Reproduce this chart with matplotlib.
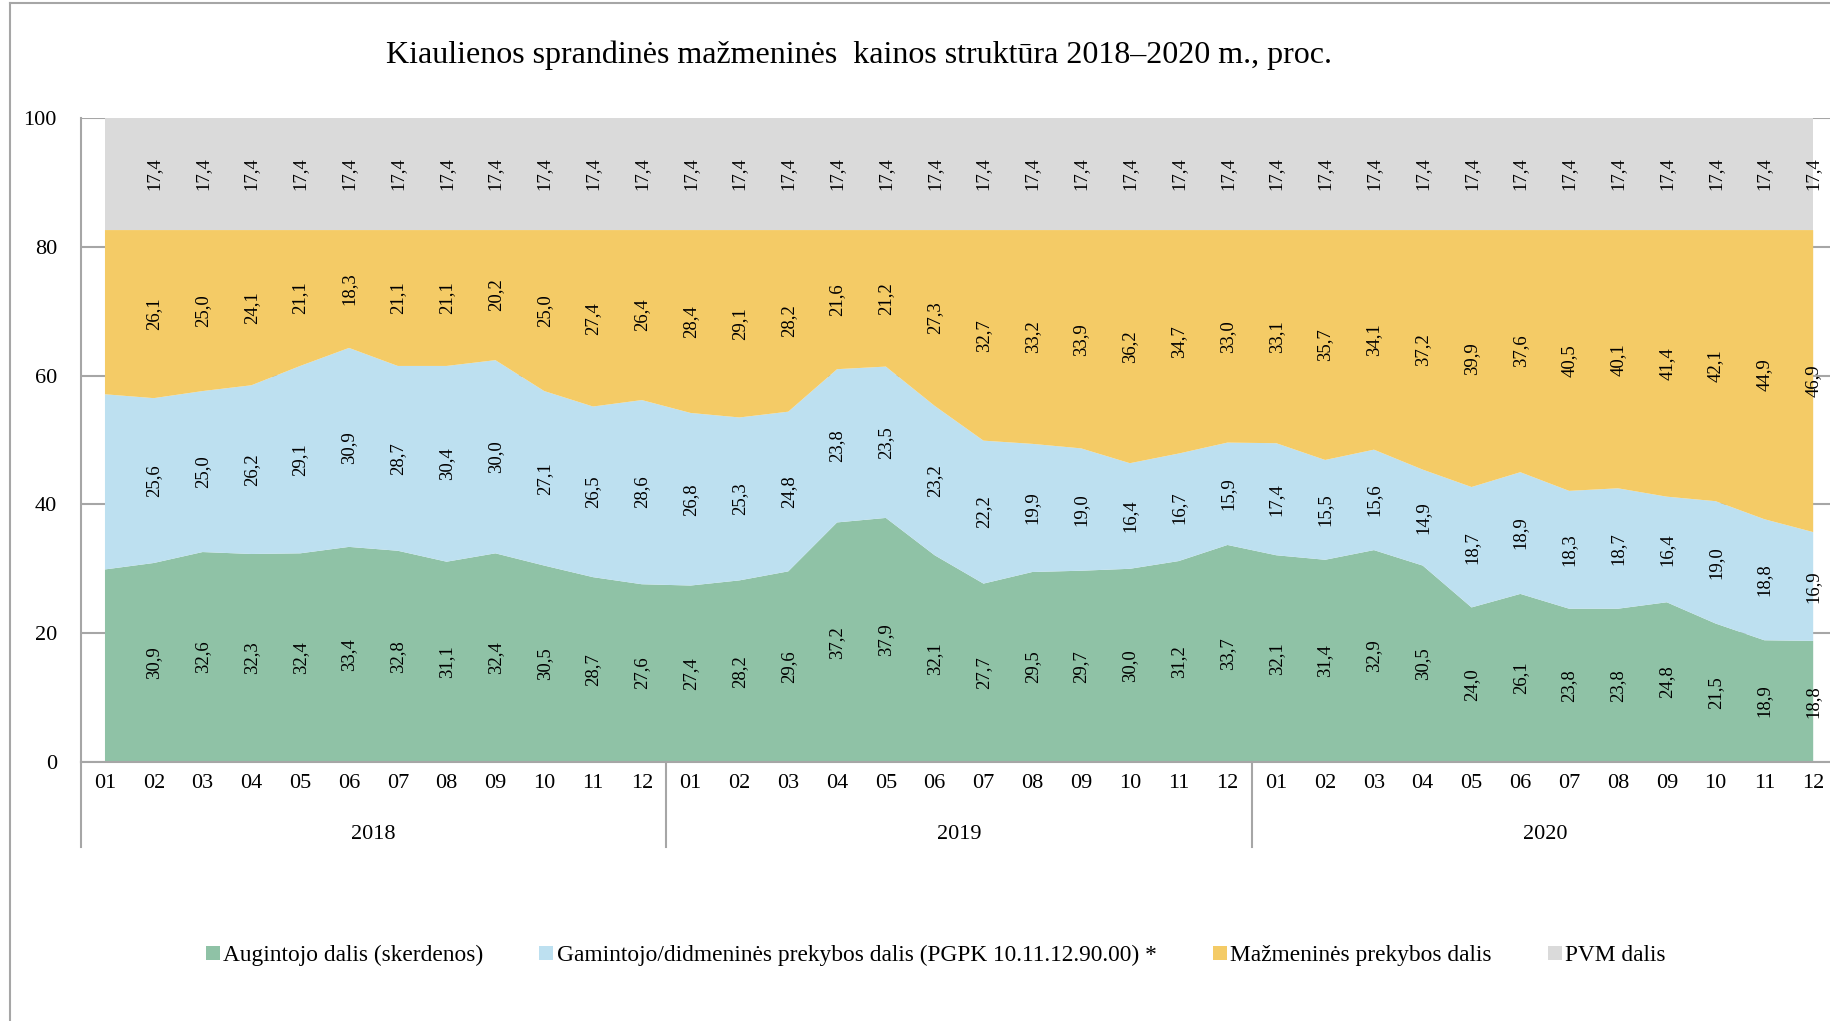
import matplotlib
matplotlib.use("Agg")
import matplotlib.pyplot as plt
from matplotlib.lines import Line2D

plt.rcParams['font.family'] = ['Liberation Serif', 'DejaVu Serif']

# monthly shares of the retail price, 2018-01 .. 2020-12 (first month has no label in the source)
augintojo = [29.9, 30.9, 32.6, 32.3, 32.4, 33.4, 32.8, 31.1, 32.4, 30.5, 28.7, 27.6,
             27.4, 28.2, 29.6, 37.2, 37.9, 32.1, 27.7, 29.5, 29.7, 30.0, 31.2, 33.7,
             32.1, 31.4, 32.9, 30.5, 24.0, 26.1, 23.8, 23.8, 24.8, 21.5, 18.9, 18.8]
gamintojo = [27.2, 25.6, 25.0, 26.2, 29.1, 30.9, 28.7, 30.4, 30.0, 27.1, 26.5, 28.6,
             26.8, 25.3, 24.8, 23.8, 23.5, 23.2, 22.2, 19.9, 19.0, 16.4, 16.7, 15.9,
             17.4, 15.5, 15.6, 14.9, 18.7, 18.9, 18.3, 18.7, 16.4, 19.0, 18.8, 16.9]
mazmenine = [25.5, 26.1, 25.0, 24.1, 21.1, 18.3, 21.1, 21.1, 20.2, 25.0, 27.4, 26.4,
             28.4, 29.1, 28.2, 21.6, 21.2, 27.3, 32.7, 33.2, 33.9, 36.2, 34.7, 33.0,
             33.1, 35.7, 34.1, 37.2, 39.9, 37.6, 40.5, 40.1, 41.4, 42.1, 44.9, 46.9]
pvm = [17.4] * 36

months = ['01', '02', '03', '04', '05', '06', '07', '08', '09', '10', '11', '12'] * 3
years = ['2018', '2019', '2020']
series_names = ['Augintojo dalis (skerdenos)',
                'Gamintojo/didmeninės prekybos dalis (PGPK 10.11.12.90.00) *',
                'Mažmeninės prekybos dalis',
                'PVM dalis']
colors = ['#8FC2A6', '#BDE0F0', '#F4CB66', '#DADADA']
title = 'Kiaulienos sprandinės mažmeninės  kainos struktūra 2018–2020 m., proc.'

fig = plt.figure(figsize=(18.31, 10.21), dpi=100)
ax = fig.add_axes([0.044, 0.2537, 0.9596, 0.6307])

x = list(range(len(months)))
series = [augintojo, gamintojo, mazmenine, pvm]
ax.stackplot(x, *series, colors=colors, labels=series_names, linewidth=0)

# data labels in the middle of each band, skipping the first month
bottom = [0.0] * len(x)
for vals in series:
    for i in x:
        if i > 0:
            txt = f"{vals[i]:.1f}".replace('.', ',')
            ax.text(i, bottom[i] + vals[i] / 2, txt, rotation=90,
                    ha='center', va='center', fontsize=13.5)
    bottom = [b + v for b, v in zip(bottom, vals)]

ax.set_xlim(-0.5, 35.5)
ax.set_ylim(0, 100)
ax.set_yticks([0, 20, 40, 60, 80, 100])
ax.set_xticks(x)
ax.set_xticklabels(months)
ax.tick_params(axis='x', length=0, pad=9, labelsize=16)
ax.tick_params(axis='y', length=0, pad=17, labelsize=16)
ax.set_axisbelow(True)
ax.grid(axis='y', color='#A6A6A6', linewidth=1.5)

for side in ['top', 'right']:
    ax.spines[side].set_visible(False)
for side in ['left', 'bottom']:
    ax.spines[side].set_color('#A6A6A6')
    ax.spines[side].set_linewidth(1.5)

# year labels and separators below the month labels
trans = ax.get_xaxis_transform()
for k, yr in enumerate(years):
    ax.text(12 * k + 5.5, -0.112, yr, transform=trans, ha='center', va='center', fontsize=16)
for sep in [-0.5, 11.5, 23.5]:
    ax.add_line(Line2D([sep, sep], [0, -0.132], transform=trans, color='#A6A6A6',
                       linewidth=1.5, clip_on=False))

fig.text(0.469, 0.946, title, ha='center', va='center', fontsize=23)

handles, labels = ax.get_legend_handles_labels()
fig.legend(handles, labels, loc='center', bbox_to_anchor=(0.511, 0.064), ncol=4,
           frameon=False, fontsize=16.8, handlelength=0.6, handleheight=0.6,
           handletextpad=0.15, columnspacing=2.4)

# outer chart frame (top and left edges visible)
fig.add_artist(Line2D([0.0052, 1.0], [0.997, 0.997], color='#A6A6A6', linewidth=1.5))
fig.add_artist(Line2D([0.0052, 0.0052], [0.0, 0.997], color='#A6A6A6', linewidth=1.5))

fig.savefig('out.png', dpi=100)
